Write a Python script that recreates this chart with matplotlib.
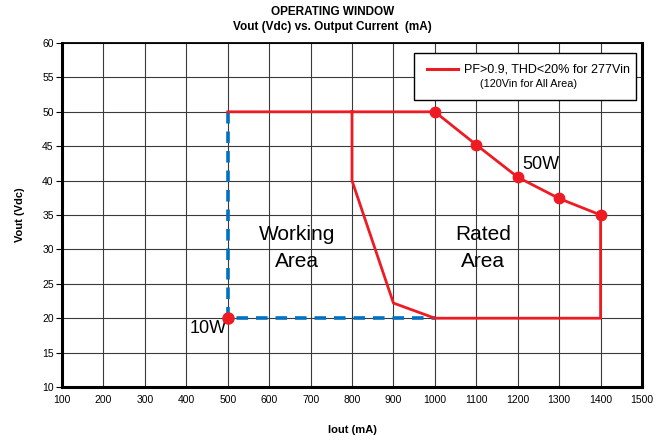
import numpy as np
import matplotlib as mpl
mpl.use('Agg')
import matplotlib.pyplot as plt
from matplotlib.patches import Rectangle

plt.rcParams['font.family'] = ['Liberation Sans', 'DejaVu Sans']

# rated area boundary (Iout mA, Vout Vdc)
rated_x = [500, 1000, 1100, 1200, 1300, 1400, 1400, 1000, 900, 800, 800]
rated_y = [50, 50, 45.2, 40.5, 37.4, 35, 20, 20, 22.2, 40, 50]
# constant power (50W) points with markers
pw_x = [1000, 1100, 1200, 1300, 1400]
pw_y = [50, 45.2, 40.5, 37.4, 35]
# working area boundary (dashed)
work_x = [500, 500, 1000]
work_y = [50, 20, 20]
# 10W point
low_x = [500]
low_y = [20]

red = '#ED1C24'
blue = '#0070C0'

fig = plt.figure(figsize=(6.65, 4.4), dpi=100)
ax = fig.add_axes([62/665, 1-387/440, 580/665, 344/440])

ax.set_xlim(100, 1500)
ax.set_ylim(10, 60)
ax.set_xticks(np.arange(100, 1501, 100))
ax.set_yticks(np.arange(10, 61, 5))
ax.grid(True, color='#3a3a3a', lw=0.8)
ax.set_axisbelow(True)

ax.plot(work_x, work_y, color=blue, lw=2.6, dashes=(3.2, 2.2), zorder=3)
ax.plot(rated_x, rated_y, color=red, lw=2.0, zorder=4)
ax.plot(pw_x, pw_y, 'o', color=red, ms=7.5, zorder=5)
ax.plot(low_x, low_y, 'o', color=red, ms=8, zorder=5, clip_on=False)

ax.text(668, 32.1, 'Working', ha='center', va='center', fontsize=15)
ax.text(668, 28.2, 'Area', ha='center', va='center', fontsize=15)
ax.text(1117, 32.1, 'Rated', ha='center', va='center', fontsize=15)
ax.text(1117, 28.2, 'Area', ha='center', va='center', fontsize=15)
ax.text(1255, 42.4, '50W', ha='center', va='center', fontsize=13)
ax.text(452, 18.5, '10W', ha='center', va='center', fontsize=13)

# legend box
tr = ax.transAxes
x0, x1 = (414-62)/580, (636-62)/580
y0, y1 = (387-100)/344, (387-53)/344
ax.add_patch(Rectangle((x0, y0), x1-x0, y1-y0, transform=tr, facecolor='white',
                       edgecolor='black', lw=1.0, zorder=6))
ly = (387-69)/344
ax.plot([(427-62)/580, (458-62)/580], [ly, ly], color=red, lw=2.2, transform=tr, zorder=7)
ax.text((464-62)/580, (387-70)/344, 'PF>0.9, THD<20% for 277Vin', transform=tr,
        ha='left', va='center', fontsize=9, zorder=7)
ax.text((529-62)/580, (387-84)/344, '(120Vin for All Area)', transform=tr,
        ha='center', va='center', fontsize=7.8, zorder=7)

for s in ['left', 'bottom', 'right']:
    ax.spines[s].set_linewidth(2.2)
ax.spines['top'].set_linewidth(1.3)
ax.tick_params(axis='y', direction='out', length=4, width=0.8, labelsize=7.5, pad=2)
ax.tick_params(axis='x', length=0, labelsize=7.5, pad=6)

ax.set_xlabel('Iout (mA)', fontsize=8, fontweight='bold', labelpad=14)
ax.set_ylabel('Vout (Vdc)', fontsize=8, fontweight='bold', labelpad=12)
fig.text(0.5, 1-12/440, 'OPERATING WINDOW', ha='center', va='center', fontsize=8.5, fontweight='bold')
fig.text(0.5, 1-27/440, 'Vout (Vdc) vs. Output Current  (mA)', ha='center', va='center',
         fontsize=8.5, fontweight='bold')

fig.savefig('out.png', dpi=100)
